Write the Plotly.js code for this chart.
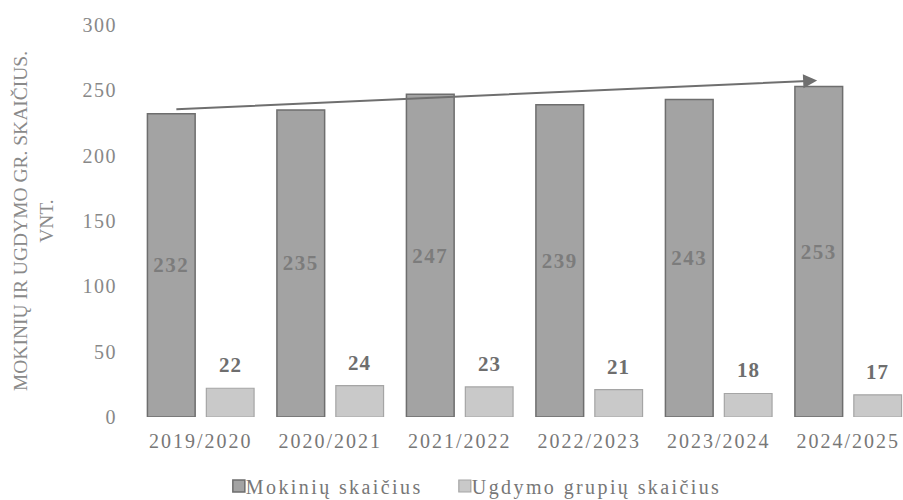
<!DOCTYPE html>
<html>
<head>
<meta charset="utf-8">
<script src="https://cdn.plot.ly/plotly-3.0.1.min.js"></script>
<style>
html,body{margin:0;padding:0;background:#fff;}
#chart{width:903px;height:500px;}
#chart .xtick text{letter-spacing:2px;}
#chart .ytick text{letter-spacing:1.5px;}
#chart .legendtext{letter-spacing:2.4px;transform:translateX(-13px);}
#chart .legend .scrollbox{clip-path:none !important;}
#chart text.bartext{letter-spacing:1.5px;}
#chart .annotation-text{letter-spacing:1px;}
</style>
</head>
<body>
<div id="chart"></div>
<script>
const categories = ["2019/2020", "2020/2021", "2021/2022", "2022/2023", "2023/2024", "2024/2025"];
const students = [232, 235, 247, 239, 243, 253];
const groups = [22, 24, 23, 21, 18, 17];
const seriesNames = ["Mokinių skaičius", "Ugdymo grupių skaičius"];
const yTitle = "MOKINIŲ IR UGDYMO GR. SKAIČIUS.<br>VNT.";
const trendArrow = {x0: -0.2, y0: 235.5, x1: 4.76, y1: 257.5};

const serif = "Liberation Serif, Times New Roman, serif";
const bargap = 0.09;
const secondBarOffset = (1 - bargap) / 4;

const data = [
  {
    type: "bar", name: seriesNames[0], x: categories, y: students,
    text: students.map(String), textposition: "inside", insidetextanchor: "middle",
    textfont: {family: serif, size: 21, color: "#7c7c7c", weight: "bold"},
    marker: {color: "#a3a3a3", line: {color: "#6e6e6e", width: 1.5}},
    cliponaxis: false
  },
  {
    type: "bar", name: seriesNames[1], x: categories, y: groups,
    marker: {color: "#c9c9c9", line: {color: "#a5a5a5", width: 1.2}},
    cliponaxis: false
  }
];

const groupLabels = groups.map((v, i) => ({
  x: i + secondBarOffset, y: v, xref: "x", yref: "y",
  text: String(v), showarrow: false, yanchor: "middle", yshift: 23,
  font: {family: serif, size: 21, color: "#6e6e6e", weight: "bold"}
}));

const layout = {
  width: 903, height: 500,
  margin: {l: 136, r: 0, t: 25, b: 83},
  paper_bgcolor: "#fff", plot_bgcolor: "#fff",
  barmode: "group", bargap: bargap, bargroupgap: 0.19,
  showlegend: true,
  legend: {orientation: "h", x: 0.108, xanchor: "left", yref: "container", y: 0.028, yanchor: "middle",
           font: {family: serif, size: 20, color: "#777"}, itemwidth: 30,
           entrywidth: 181, entrywidthmode: "pixels", traceorder: "normal"},
  xaxis: {
    type: "category", range: [-0.5, 5.423], automargin: false,
    showgrid: false, zeroline: false, showline: false, ticks: "", ticklabelstandoff: 10,
    tickfont: {family: serif, size: 20, color: "#777"}
  },
  yaxis: {
    range: [0, 300], dtick: 50, showgrid: false, zeroline: false, showline: false, automargin: false,
    tickfont: {family: serif, size: 20, color: "#888"}, ticks: "", ticklabelstandoff: 18,
    title: {text: yTitle, standoff: 28, font: {family: serif, size: 19.5, color: "#8a8a8a"}}
  },
  annotations: [{
    x: trendArrow.x1, y: trendArrow.y1, ax: trendArrow.x0, ay: trendArrow.y0,
    xref: "x", yref: "y", axref: "x", ayref: "y",
    showarrow: true, arrowhead: 2, arrowsize: 1.4, arrowwidth: 2, arrowcolor: "#6f6f6f", text: ""
  }].concat(groupLabels)
};

Plotly.newPlot("chart", data, layout, {displayModeBar: false, staticPlot: true});
</script>
</body>
</html>
